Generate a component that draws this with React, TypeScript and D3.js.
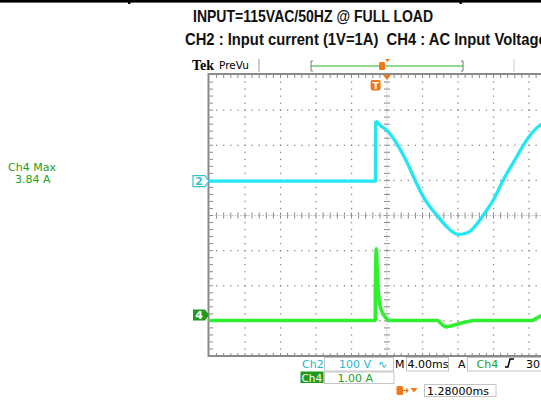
import React from "react";
import * as d3 from "d3";

// screen time (ms, relative to screen centre) and channel readings
const ch2Time = [-20, -1.3, -1.28, -1.16, -0.79, -0.03, 1.09, 2.22, 3.15, 4.09, 5.6, 6.73, 7.45, 8.03, 8.7, 9.35, 10.85, 11.98, 13.1, 14.61, 15.74, 17.24, 18.2];
const ch2Volts = [0, 0, 166, 169, 159, 145, 107, 55, 3, -45, -97, -130, -146, -152, -150, -143, -97, -54, 3, 69, 117, 159, 170];

const ch4Time = [-20, -1.32, -1.31, -1.2, -1.1, -0.95, -0.8, -0.55, -0.2, 0.3, 5.7, 6.0, 6.3, 6.65, 7.1, 7.7, 8.4, 9.1, 9.8, 16.3, 16.8, 17.35, 18.2];
const ch4Amps = [-0.16, -0.16, 0.63, 1.88, 1.2, 0.56, 0.29, 0.08, -0.06, -0.16, -0.16, -0.22, -0.3, -0.34, -0.32, -0.28, -0.23, -0.19, -0.16, -0.16, -0.1, -0.03, 0.02];

const titleLines = ["INPUT=115VAC/50HZ @ FULL LOAD", "CH2 : Input current (1V=1A)  CH4 : AC Input Voltage"];
const ch2Scale = 100; // V/div
const ch4Scale = 1; // A/div
const ch2Pos = 0.98; // div
const ch4Pos = -2.83;
const timePerDiv = 4; // ms
const trigDelay = -1.28;

const CYAN = "#22e6f2";
const GREEN = "#2ef02e";
const DKGREEN = "#1f9a1f";
const ORANGE = "#f07818";
const GRID = "#888";
const SCOPE_FONT = "DejaVu Sans";

export default function App() {
  const x = d3.scaleLinear().domain([-5 * timePerDiv, 5 * timePerDiv]).range([209.5, 564.5]);
  const yDiv = d3.scaleLinear().domain([-4, 4]).range([356, 75]);
  const y2 = (v: number) => yDiv(v / ch2Scale + ch2Pos);
  const y4 = (a: number) => yDiv(a / ch4Scale + ch4Pos);

  const line2 = d3.line<number>().x((d, i) => x(ch2Time[i])).y((d) => y2(d)).curve(d3.curveMonotoneX);
  const line4 = d3.line<number>().x((d, i) => x(ch4Time[i])).y((d) => y4(d)).curve(d3.curveMonotoneX);

  const majorT = d3.range(-16, 17, 4).filter((t) => t !== 0);
  const majorY = d3.range(-3, 4, 1).filter((d) => d !== 0);
  const minorT = d3.range(-19.2, 19.3, 0.8);
  const minorY = d3.range(-3.8, 3.81, 0.2);

  const dots: JSX.Element[] = [];
  majorT.forEach((t) =>
    minorY.forEach((d, j) =>
      dots.push(<rect key={`v${t}_${j}`} x={x(t) - 0.6} y={yDiv(d) - 0.6} width={1.3} height={1.3} fill={GRID} />)
    )
  );
  majorY.forEach((d) =>
    minorT.forEach((t, j) =>
      dots.push(<rect key={`h${d}_${j}`} x={x(t) - 0.6} y={yDiv(d) - 0.6} width={1.3} height={1.3} fill={GRID} />)
    )
  );

  const x0 = x(0);
  const yc = yDiv(0);

  return (
    <svg width={541} height={405} style={{ position: "absolute", left: 0, top: 0, background: "#fff" }}>
      {/* document table border */}
      <rect x={0} y={0} width={541} height={2.6} fill="#000" />
      <rect x={128} y={0} width={2.4} height={4} fill="#000" />
      <rect x={459.5} y={0} width={2.4} height={4} fill="#000" />

      {/* titles */}
      <text transform="translate(193,22) scale(0.82,1)" fontFamily="Liberation Sans" fontWeight="bold" fontSize={17.1} fill="#111">
        {titleLines[0]}
      </text>
      <text transform="translate(185,45) scale(0.93,1)" fontFamily="Liberation Sans" fontWeight="bold" fontSize={15.9} fill="#111" style={{ whiteSpace: "pre" }}>
        {titleLines[1]}
      </text>

      {/* side readout */}
      <text x={8} y={171} fontFamily={SCOPE_FONT} fontSize={11} fill="#22a022">Ch4 Max</text>
      <text x={15} y={183} fontFamily={SCOPE_FONT} fontSize={11} fill="#22a022">3.84 A</text>

      {/* header bar */}
      <text x={192} y={70} fontFamily="Liberation Serif" fontWeight="bold" fontSize={14} fill="#000">Tek</text>
      <text x={219} y={68.5} fontFamily={SCOPE_FONT} fontSize={10.5} fill="#000">PreVu</text>
      <line x1={259} x2={259} y1={59} y2={72} stroke="#999" strokeWidth={1} />
      <line x1={514} x2={514} y1={59} y2={72} stroke="#ccc" strokeWidth={1} />
      <line x1={311} x2={463} y1={66} y2={66} stroke="#90d890" strokeWidth={2} />
      <path d="M313,61 h-2 v10 h2 M461,61 h2 v10 h-2" fill="none" stroke="#777" strokeWidth={1} />
      <rect x={379} y={62} width={6} height={8} rx={1.5} fill={ORANGE} />
      <path d="M385,59 h5 l-2.5,3 z" fill={ORANGE} />

      {/* graticule */}
      <g>
        {dots}
        {minorY.map((d, j) => (
          <line key={`cv${j}`} x1={x0 - 3} x2={x0 + 3} y1={yDiv(d)} y2={yDiv(d)} stroke={GRID} strokeWidth={1} />
        ))}
        {minorT.map((t, j) => (
          <line key={`ch${j}`} x1={x(t)} x2={x(t)} y1={yc - 3} y2={yc + 3} stroke={GRID} strokeWidth={1} />
        ))}
        <line x1={x0} x2={x0} y1={75} y2={356} stroke="#bbb" strokeWidth={1} strokeDasharray="1.4,1.4" />
        <line x1={209.5} x2={564.5} y1={yc} y2={yc} stroke="#bbb" strokeWidth={1} strokeDasharray="1.4,1.4" />
        {minorT.map((t, j) => (
          <g key={`bt${j}`}>
            <line x1={x(t)} x2={x(t)} y1={75} y2={78} stroke={GRID} strokeWidth={1} />
            <line x1={x(t)} x2={x(t)} y1={353} y2={356} stroke={GRID} strokeWidth={1} />
          </g>
        ))}
        {minorY.map((d, j) => (
          <line key={`bl${j}`} x1={209.5} x2={213} y1={yDiv(d)} y2={yDiv(d)} stroke={GRID} strokeWidth={1} />
        ))}
        <rect x={208.5} y={74} width={400} height={282} fill="none" stroke="#8a8a8a" strokeWidth={2} />
      </g>

      {/* traces */}
      <path d={line2(ch2Volts) ?? ""} fill="none" stroke={CYAN} strokeWidth={3.3} strokeLinejoin="round" />
      <path d={line4(ch4Amps) ?? ""} fill="none" stroke={GREEN} strokeWidth={3.6} strokeLinejoin="bevel" />

      {/* trigger markers */}
      <path d={`M${x0 - 4},75 h8 l-4,5 z`} fill={ORANGE} />
      <rect x={x(trigDelay) - 5} y={80} width={10} height={10.5} rx={2} fill={ORANGE} />
      <text x={x(trigDelay)} y={89} textAnchor="middle" fontFamily={SCOPE_FONT} fontWeight="bold" fontSize={9.5} fill="#fff">T</text>

      {/* channel ground markers */}
      <path d={`M193,${y2(0) - 5.5} h12 l4,5.5 l-4,5.5 h-12 z`} fill="#fff" stroke="#33c4cc" strokeWidth={1.2} />
      <text x={199} y={y2(0) + 4} textAnchor="middle" fontFamily={SCOPE_FONT} fontWeight="bold" fontSize={11} fill="#33c4cc">2</text>
      <path d={`M193,${y4(0) - 5.5} h12 l4,5.5 l-4,5.5 h-12 z`} fill={DKGREEN} />
      <text x={199} y={y4(0) + 4} textAnchor="middle" fontFamily={SCOPE_FONT} fontWeight="bold" fontSize={11} fill="#fff">4</text>

      {/* status readouts */}
      <g fontFamily={SCOPE_FONT} fontSize={11}>
        <text x={302} y={368} fill="#1fb8c8">Ch2</text>
        <rect x={324.5} y={357.5} width={69} height={13.5} fill="#fff" stroke="#c4c4c4" />
        <text x={339} y={368} fill="#1fb8c8">100 V</text>
        <text x={378} y={368} fill="#1fb8c8">∿</text>
        <text x={395} y={368} fill="#000">M</text>
        <rect x={406.5} y={357.5} width={42} height={13.5} fill="#fff" stroke="#c4c4c4" />
        <text x={407.5} y={368} fill="#000">4.00ms</text>
        <text x={458} y={368} fill="#000">A</text>
        <rect x={467.5} y={357.5} width={90} height={13.5} fill="#fff" stroke="#c4c4c4" />
        <text x={476.5} y={368} fill="#22a022">Ch4</text>
        <path d="M505,367 h3 l2,-8 h4" fill="none" stroke="#000" strokeWidth={1.5} />
        <text x={526} y={368} fill="#000">30</text>

        <rect x={300.5} y={371.5} width={23} height={11.5} fill={DKGREEN} />
        <text x={301.5} y={381.5} fill="#fff" fontSize={10.5}>Ch4</text>
        <rect x={324.5} y={372} width={69.5} height={11.5} fill="#fff" stroke="#c4c4c4" />
        <text x={337.5} y={381.5} fill="#22a022">1.00 A</text>

        <rect x={396.5} y={386} width={6.5} height={9} rx={1.5} fill={ORANGE} />
        <path d="M403,390.5 h5 M406,388.5 l2,2 l-2,2" fill="none" stroke={ORANGE} strokeWidth={1.2} />
        <path d="M410.5,388 h7 l-3.5,4.5 z" fill={ORANGE} />
        <rect x={424.5} y={384.5} width={71.5} height={12} fill="#fff" stroke="#c4c4c4" />
        <text x={427} y={394.5} fill="#000">1.28000ms</text>
      </g>
    </svg>
  );
}
